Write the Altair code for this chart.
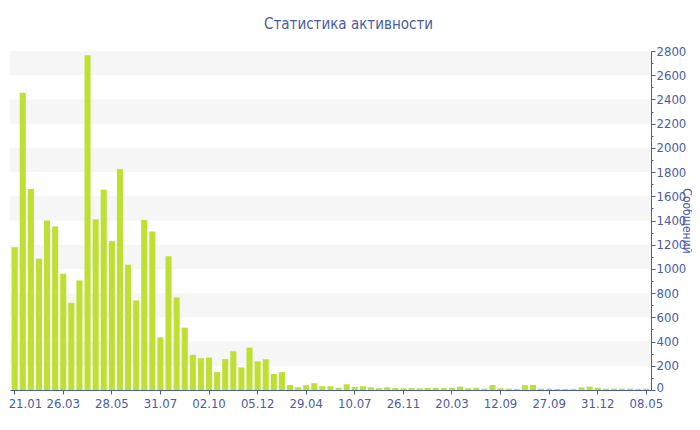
import altair as alt
import pandas as pd

# Bar values (messages per period)
values = [1180, 2455, 1660, 1085, 1400, 1350, 960, 720, 905, 2765,
          1410, 1655, 1230, 1825, 1035, 740, 1405, 1310, 435, 1105,
          765, 515, 290, 262, 268, 148, 255, 320, 186, 350,
          237, 253, 132, 148, 41, 22, 40, 56, 31, 31,
          18, 47, 25, 31, 22, 15, 22, 17, 14, 15,
          14, 17, 18, 16, 17, 28, 14, 19, 11, 41,
          14, 11, 8, 40, 42, 11, 11, 8, 8, 8,
          22, 28, 19, 11, 11, 11, 11, 8, 11]

# x tick positions (bar index) and their labels
tick_index = [0, 6, 12, 18, 24, 30, 36, 42, 48, 54, 60, 66, 72, 78]
tick_labels = ["21.01", "26.03", "28.05", "31.07", "02.10", "05.12", "29.04",
               "10.07", "26.11", "20.03", "12.09", "27.09", "31.12", "08.05"]

# alternating background bands
band_lo = [200, 600, 1000, 1400, 1800, 2200, 2600]
band_hi = [400, 800, 1200, 1600, 2000, 2400, 2800]

y_ticks = list(range(0, 2801, 100))

df = pd.DataFrame({"i": list(range(len(values))), "v": values})
bands = pd.DataFrame({"lo": band_lo, "hi": band_hi})

FONT = "DejaVu Sans Condensed"
BLUE = "#4a5ca3"
GREEN = "#bde032"

idx_arr = "[" + ",".join(str(t) for t in tick_index) + "]"
lab_arr = "[" + ",".join(f"'{t}'" for t in tick_labels) + "]"
x_label_expr = f"{lab_arr}[indexof({idx_arr}, datum.value)]"

y_scale = alt.Scale(domain=[0, 2800], nice=False, zero=True)
y_axis = alt.Axis(
    orient="right", values=y_ticks, format="d",
    labelExpr="datum.value % 200 == 0 ? datum.label : ''",
    title="Сообщений", grid=False,
    tickSize={"condition": {"test": "datum.value % 200 == 0", "value": 4}, "value": 2},
    labelPadding=1,
    labelOffset={"condition": {"test": "datum.value == 0", "value": -3}, "value": 0},
    titleAngle=90, titleX=31, titleY=169.5, titleAlign="center",
    titleBaseline="alphabetic", titleFontSize=12,
)

band_layer = alt.Chart(bands).mark_rect(color="#f6f6f6").encode(
    x=alt.value(0),
    x2=alt.value("width"),
    y=alt.Y("lo:Q", scale=y_scale, axis=y_axis),
    y2="hi:Q",
)

bars = alt.Chart(df).mark_bar(color=GREEN).encode(
    x=alt.X("i:O",
            scale=alt.Scale(paddingInner=0.25, paddingOuter=0.2),
            axis=alt.Axis(values=tick_index, labelExpr=x_label_expr,
                          labelAngle=0, title=None, tickSize=4,
                          labelPadding=3, grid=False,
                          labelAlign={"condition": {"test": "datum.value == 0", "value": "left"},
                                      "value": "center"},
                          labelOffset={"condition": {"test": "datum.value == 0", "value": -6},
                                       "value": 0})),
    y=alt.Y("v:Q", scale=y_scale, axis=y_axis),
)

chart = alt.layer(band_layer, bars).properties(
    width=641, height=339,
    autosize="none",
    padding={"left": 2, "top": 43, "right": 41, "bottom": 23},
    title=alt.TitleParams("Статистика активности", font=FONT, fontSize=15,
                          fontWeight="normal", color=BLUE, anchor="middle",
                          offset=13, dx=18),
).configure_view(strokeWidth=0).configure_axis(
    domainColor=BLUE, tickColor=BLUE, labelColor=BLUE, titleColor=BLUE,
    labelFont=FONT, titleFont=FONT, labelFontSize=13, titleFontSize=13,
    titleFontWeight="normal",
)

chart.save("out.html", embed_options={"renderer": "svg", "actions": False})
